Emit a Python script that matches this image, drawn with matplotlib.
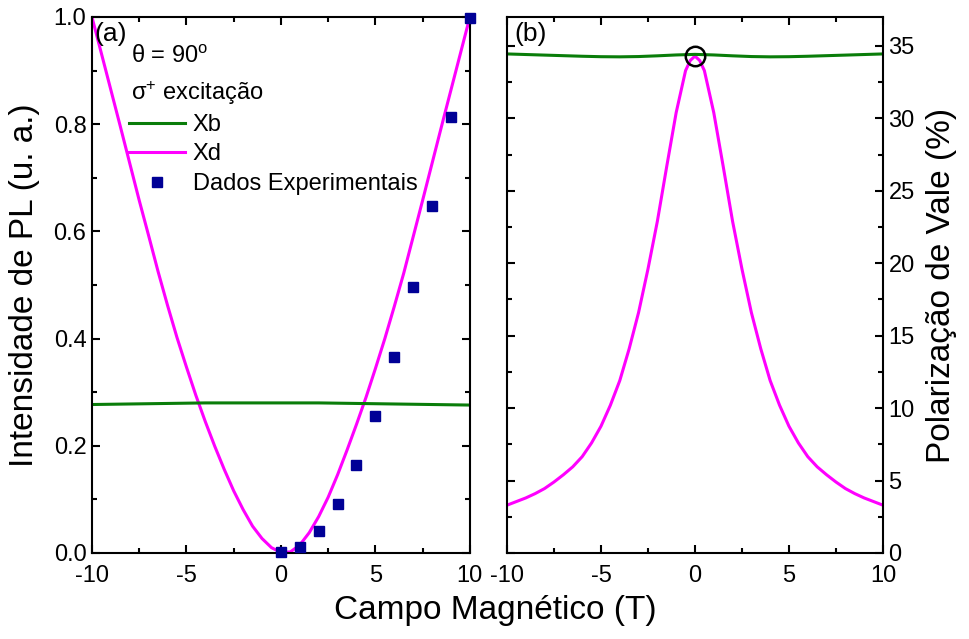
import numpy as np
import matplotlib
matplotlib.use('Agg')
import matplotlib.pyplot as plt
from matplotlib.ticker import MultipleLocator, FormatStrFormatter

plt.rcParams['font.family'] = ['Liberation Sans', 'DejaVu Sans']
plt.rcParams['mathtext.fontset'] = 'custom'
plt.rcParams['mathtext.rm'] = 'Liberation Sans'
plt.rcParams['mathtext.it'] = 'Liberation Sans:italic'
plt.rcParams['axes.unicode_minus'] = False

# (a) PL intensity vs field
fieldA = [-10, -9.5, -9, -8.5, -8, -7.5, -7, -6.5, -6, -5.5, -5, -4.5, -4, -3.5, -3, -2.5, -2, -1.5, -1, -0.5,
          0, 0.5, 1, 1.5, 2, 2.5, 3, 3.5, 4, 4.5, 5, 5.5, 6, 6.5, 7, 7.5, 8, 8.5, 9, 9.5, 10]
xd_a = [1.000, 0.932, 0.864, 0.796, 0.727, 0.658, 0.592, 0.525, 0.462, 0.402, 0.347, 0.294, 0.245, 0.199, 0.156,
        0.116, 0.081, 0.050, 0.027, 0.010, 0.001, 0.002, 0.015, 0.038, 0.068, 0.104, 0.146, 0.192, 0.240, 0.290,
        0.344, 0.400, 0.460, 0.522, 0.590, 0.658, 0.727, 0.796, 0.864, 0.932, 1.000]
xb_field = [-10, -8, -6, -4, -2, 0, 2, 4, 6, 8, 10]
xb_a = [0.277, 0.278, 0.279, 0.280, 0.280, 0.280, 0.280, 0.279, 0.278, 0.277, 0.276]
exp_field = [0, 1, 2, 3, 4, 5, 6, 7, 8, 9, 10]
exp_int = [0.001, 0.011, 0.041, 0.092, 0.164, 0.255, 0.366, 0.497, 0.647, 0.814, 0.999]

# (b) valley polarization vs field
fieldB = [-10, -9.5, -9, -8.5, -8, -7.5, -7, -6.5, -6, -5.5, -5, -4.5, -4, -3.5, -3, -2.5, -2, -1.5, -1, -0.5, -0.25,
          0, 0.25, 0.5, 1, 1.5, 2, 2.5, 3, 3.5, 4, 4.5, 5, 5.5, 6, 6.5, 7, 7.5, 8, 8.5, 9, 9.5, 10]
xd_b = [3.3, 3.55, 3.8, 4.1, 4.45, 4.9, 5.4, 5.95, 6.65, 7.6, 8.75, 10.2, 11.9, 14.1, 16.6, 19.6, 22.9, 26.7, 30.4,
        33.3, 34.0, 34.3, 34.0, 33.3, 30.4, 26.7, 22.9, 19.6, 16.6, 14.1, 11.9, 10.2, 8.75, 7.6, 6.65, 5.95, 5.4,
        4.9, 4.45, 4.1, 3.8, 3.55, 3.3]
xb_fieldB = [-10, -9, -8, -7, -6, -5, -4, -3, -2, -1, 0, 1, 2, 3, 4, 5, 6, 7, 8, 9, 10]
xb_b = [34.45, 34.41, 34.37, 34.33, 34.29, 34.26, 34.25, 34.27, 34.32, 34.38, 34.42,
        34.38, 34.32, 34.27, 34.25, 34.26, 34.29, 34.33, 34.37, 34.41, 34.45]
peak_field = [0]
peak_pol = [34.3]

green = '#0a7d0a'
magenta = '#ff00ff'
navy = '#000096'
fs_tick = 17
fs_label = 24

fig = plt.figure(figsize=(9.69, 6.39), dpi=100)
axA = fig.add_axes([0.0949, 0.1346, 0.390, 0.8388])
axB = fig.add_axes([0.5232, 0.1346, 0.388, 0.8388])


def style(ax):
    for s in ax.spines.values():
        s.set_linewidth(1.5)
    ax.tick_params(which='both', direction='in', top=True, bottom=True, left=True, right=True,
                   width=1.5, labelsize=fs_tick, pad=4)
    ax.tick_params(axis='x', which='both', pad=9)
    ax.tick_params(which='major', length=6)
    ax.tick_params(which='minor', length=3.5)
    ax.set_xlim(-10, 10)
    ax.xaxis.set_major_locator(MultipleLocator(5))
    ax.xaxis.set_minor_locator(MultipleLocator(2.5))


style(axA)
axA.plot(fieldA, xd_a, color=magenta, lw=2.2, label='Xd', zorder=2)
axA.plot(xb_field, xb_a, color=green, lw=2.2, label='Xb', zorder=2)
axA.plot(exp_field, exp_int, 's', color=navy, ms=7, label='Dados Experimentais', zorder=3, clip_on=False)
axA.set_ylim(0, 1.0)
axA.yaxis.set_major_locator(MultipleLocator(0.2))
axA.yaxis.set_minor_locator(MultipleLocator(0.1))
axA.yaxis.set_major_formatter(FormatStrFormatter('%.1f'))
axA.tick_params(labelright=False)
axA.set_ylabel('Intensidade de PL (u. a.)', fontsize=fs_label, labelpad=10)
axA.text(0.006, 0.99, '(a)', transform=axA.transAxes, fontsize=19, va='top', ha='left')
axA.text(0.103, 0.925, 'θ = 90$^{\\mathrm{o}}$', transform=axA.transAxes, fontsize=fs_tick, va='center')
axA.text(0.103, 0.858, 'σ$^{+}$ excitação', transform=axA.transAxes, fontsize=fs_tick, va='center')
h, l = axA.get_legend_handles_labels()
order = [1, 0, 2]
axA.legend([h[i] for i in order], [l[i] for i in order], loc='upper left', bbox_to_anchor=(0.085, 0.828),
           frameon=False, fontsize=fs_tick, handlelength=2.4, handletextpad=0.3, labelspacing=0.32,
           borderpad=0.2, borderaxespad=0)

style(axB)
axB.plot(fieldB, xd_b, color=magenta, lw=2.2)
axB.plot(xb_fieldB, xb_b, color=green, lw=2.2)
axB.plot(peak_field, peak_pol, 'o', mfc='none', mec='black', ms=14, mew=1.8)
axB.set_ylim(0, 37)
axB.yaxis.set_major_locator(MultipleLocator(5))
axB.yaxis.set_minor_locator(MultipleLocator(2.5))
axB.tick_params(labelleft=False, labelright=True)
axB.yaxis.set_label_position('right')
axB.set_ylabel('Polarização de Vale (%)', fontsize=fs_label, labelpad=8)
axB.text(0.02, 0.99, '(b)', transform=axB.transAxes, fontsize=19, va='top', ha='left')

fig.text(0.511, 0.045, 'Campo Magnético (T)', fontsize=fs_label, ha='center', va='center')

fig.savefig('out.png', dpi=100)
